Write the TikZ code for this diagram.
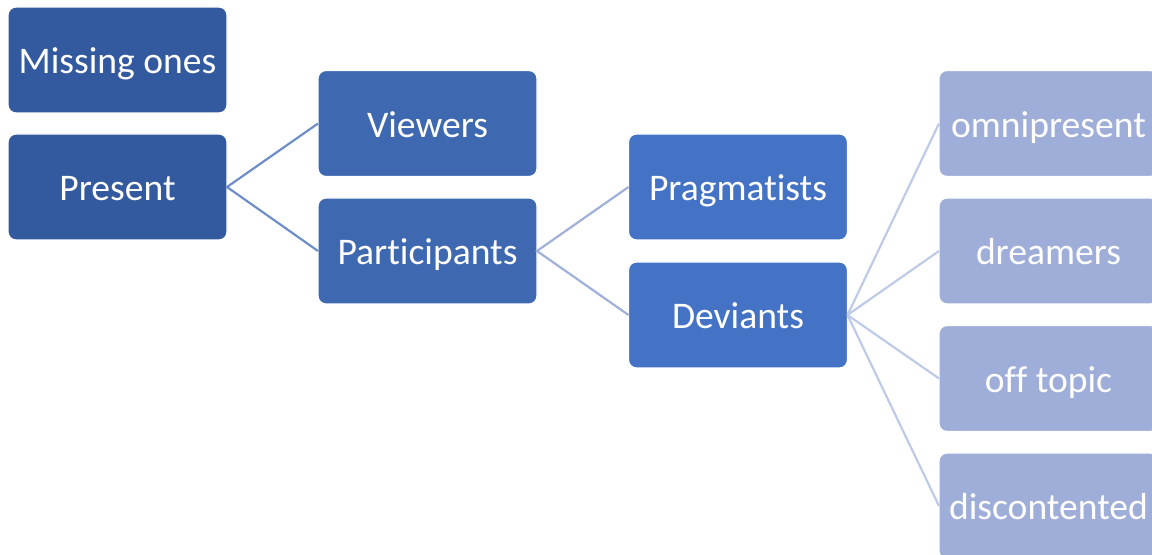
\documentclass[tikz,border=0pt]{standalone}
\usepackage{fontspec}
\setmainfont[Ligatures={NoCommon,NoContextual}]{Carlito}
\definecolor{cA}{RGB}{51,90,158}
\definecolor{cB}{RGB}{62,104,176}
\definecolor{cC}{RGB}{68,114,196}
\definecolor{cD}{RGB}{159,174,216}
\definecolor{lA}{RGB}{111,140,203}
\definecolor{lB}{RGB}{160,176,218}
\definecolor{lC}{RGB}{190,202,230}
\begin{document}
\begin{tikzpicture}[x=0.5pt,y=-0.5pt,
  box/.style={rectangle,rounded corners=4pt,draw=white,line width=0.6pt,
    minimum width=109.5pt,minimum height=53pt,inner sep=0pt,outer sep=0pt,
    text height=14pt,text depth=0.4pt,
    text=white,font=\fontsize{18.8pt}{22pt}\selectfont},
  conn/.style={line width=1.1pt}]
\useasboundingbox (0,0) rectangle (1152,555);
\clip (0,0) rectangle (1152,555);
\node[box,fill=cA] (missing) at (117.5,60) {Missing ones};
\node[box,fill=cA] (present) at (117.5,187) {Present};
\node[box,fill=cB] (viewers) at (427.5,123.5) {Viewers};
\node[box,fill=cB] (partic) at (427.5,251) {Participants};
\node[box,fill=cC] (prag) at (738,187) {Pragmatists};
\node[box,fill=cC] (devi) at (738,315) {Deviants};
\node[box,fill=cD] (omni) at (1048.5,123.5) {omnipresent};
\node[box,fill=cD] (dream) at (1048.5,251) {dreamers};
\node[box,fill=cD] (offt) at (1048.5,378.5) {off topic};
\node[box,fill=cD] (disc) at (1048.5,506) {discontented};
\draw[conn,lA] (viewers.west) -- (present.east) -- (partic.west);
\draw[conn,lB] (prag.west) -- (partic.east) -- (devi.west);
\draw[conn,lC] (devi.east) -- (omni.west);
\draw[conn,lC] (devi.east) -- (dream.west);
\draw[conn,lC] (devi.east) -- (offt.west);
\draw[conn,lC] (devi.east) -- (disc.west);
\end{tikzpicture}
\end{document}
